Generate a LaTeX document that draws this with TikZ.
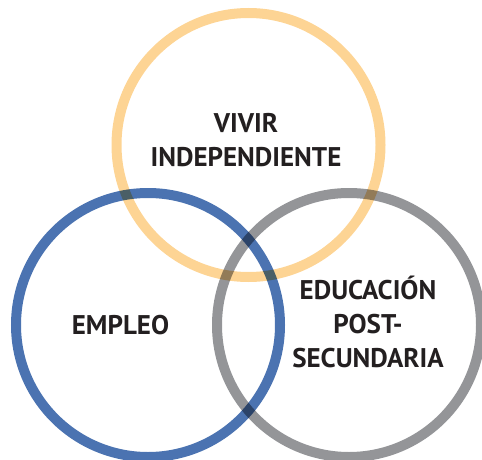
\documentclass[tikz,border=0pt]{standalone}
\usepackage{fontspec}
\setmainfont{PT Sans}
\definecolor{ringyellow}{HTML}{FDD494}
\definecolor{ringblue}{HTML}{4B73B1}
\definecolor{ringgray}{HTML}{949598}
\definecolor{labeltext}{HTML}{231F20}
\begin{document}
\begin{tikzpicture}[x=1pt,y=-1pt,
  ring/.style={circle, draw, line width=10pt, minimum size=264pt, inner sep=0pt, blend mode=multiply},
  lbl/.style={align=center, text=labeltext, inner sep=0pt, anchor=base,
    font=\fontsize{27}{34}\selectfont\bfseries}]
\useasboundingbox (0,0) rectangle (482,460);
\begin{scope}[transparency group]
\node[ring, draw=ringyellow] (vivir) at (248.5,145) {};
\node[ring, draw=ringblue] (empleo) at (148,325) {};
\node[ring, draw=ringgray] (educ) at (349,325) {};
\end{scope}
\node[lbl] (t1) at (246,166) {VIVIR\\INDEPENDIENTE};
\node[lbl] (t2) at (120.5,334) {EMPLEO};
\node[lbl] (t3) at (368,367) {EDUCACIÓN\\POST-\\SECUNDARIA};
\end{tikzpicture}
\end{document}
